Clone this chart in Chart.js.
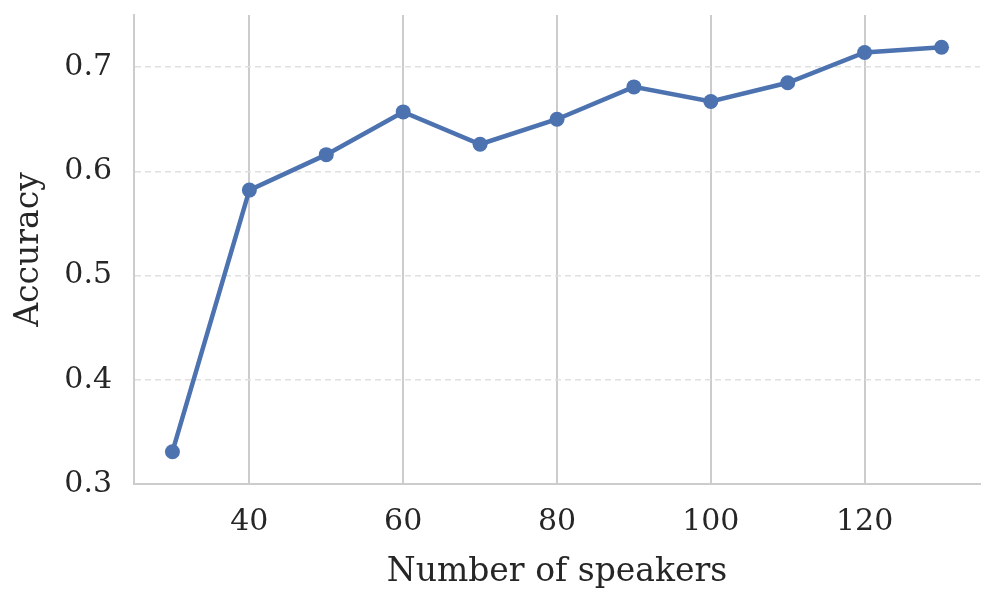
<!DOCTYPE html>
<html>
<head>
<meta charset="utf-8">
<script src="https://cdn.jsdelivr.net/npm/chart.js@4"></script>
<style>
  html, body { margin: 0; padding: 0; background: #fff; }
  #wrap { width: 996px; height: 600px; }
</style>
</head>
<body>
<div id="wrap"><canvas id="chart" width="996" height="600"></canvas></div>
<script>
// data
const speakers = [30, 40, 50, 60, 70, 80, 90, 100, 110, 120, 130];
const accuracy = [0.331, 0.582, 0.616, 0.657, 0.626, 0.650, 0.681, 0.667, 0.685, 0.714, 0.719];
const xTicks = [40, 60, 80, 100, 120];
const yTicks = [0.3, 0.4, 0.5, 0.6, 0.7];

const FONT = "'DejaVu Serif', serif";
const TEXT = '#262626';

const points = speakers.map((s, i) => ({ x: s, y: accuracy[i] }));

new Chart(document.getElementById('chart'), {
    type: 'line',
    data: {
        datasets: [{
            data: points,
            borderColor: '#4c72b0',
            backgroundColor: '#4c72b0',
            borderWidth: 4.5,
            pointRadius: 7.5,
            pointHoverRadius: 7.5,
            pointBorderWidth: 0,
            tension: 0,
        }]
    },
    options: {
        responsive: false,
        animation: false,
        layout: { padding: { left: 0, top: 15, right: 16, bottom: 0 } },
        plugins: { legend: { display: false }, tooltip: { enabled: false } },
        scales: {
            x: {
                type: 'linear',
                min: 25,
                max: 135,
                afterBuildTicks: (axis) => { axis.ticks = xTicks.map(v => ({ value: v })); },
                afterFit: (axis) => {
                    axis.height = 116;
                    axis.paddingLeft = 0;
                    axis.paddingRight = 0;
                },
                grid: { color: '#cccccc', lineWidth: 2, drawTicks: false },
                border: { color: '#cccccc', width: 2 },
                ticks: { color: TEXT, font: { family: FONT, size: 30 }, padding: 20 },
                title: {
                    display: true, text: 'Number of speakers', color: TEXT,
                    font: { family: FONT, size: 33 }, padding: { top: 4, bottom: 8 }
                }
            },
            y: {
                min: 0.3,
                max: 0.75,
                afterBuildTicks: (axis) => { axis.ticks = yTicks.map(v => ({ value: v })); },
                afterFit: (axis) => {
                    axis.width = 134;
                    axis.paddingTop = 0;
                    axis.paddingBottom = 0;
                },
                grid: { color: '#e0e0e0', lineWidth: 1.5, drawTicks: false },
                border: { color: '#cccccc', width: 2, dash: [6, 4] },
                ticks: {
                    color: TEXT, font: { family: FONT, size: 30 }, padding: 22,
                    callback: (v) => v.toFixed(1)
                },
                title: {
                    display: true, text: 'Accuracy', color: TEXT,
                    font: { family: FONT, size: 33 }, padding: { top: 10, bottom: 0 }
                }
            }
        }
    }
});
</script>
</body>
</html>
